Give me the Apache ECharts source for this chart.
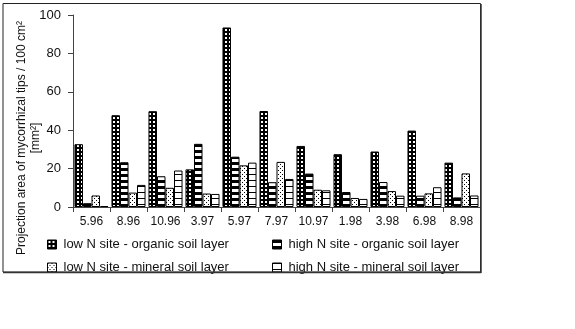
<!DOCTYPE html>
<html><head><meta charset="utf-8">
<script src="https://cdn.jsdelivr.net/npm/echarts@6/dist/echarts.min.js"></script>
<style>html,body{margin:0;padding:0;background:#fff;}#c{width:575px;height:329px;}</style>
</head><body><div id="c"></div>
<script>
var categories = ['5.96','8.96','10.96','3.97','5.97','7.97','10.97','1.98','3.98','6.98','8.98'];
var lowOrganic = [32.7, 47.8, 49.9, 19.6, 93.5, 50, 31.8, 27.5, 28.9, 39.8, 23.1];
var highOrganic = [2, 23.3, 16, 32.9, 26.2, 12.9, 17.4, 7.8, 13, 5.9, 5];
var lowMineral = [6, 7.5, 10, 7, 21.7, 23.5, 9, 4.7, 8.3, 7.1, 17.5];
var highMineral = [0.5, 11.5, 19, 6.8, 23.1, 14.6, 8.7, 4.2, 5.9, 10.3, 6];
var seriesNames = ['low N site - organic soil layer','high N site - organic soil layer','low N site - mineral soil layer','high N site - mineral soil layer'];
var yTicks = [0, 20, 40, 60, 80, 100];

function tile(w, h, draw) {
  var c = document.createElement('canvas'); c.width = w; c.height = h;
  var g = c.getContext('2d'); draw(g);
  return {image: c, repeat: 'repeat'};
}
var patLowOrg = tile(4, 4, function(g){ g.fillStyle='#000'; g.fillRect(0,0,4,4); g.fillStyle='#fff'; g.fillRect(1,1,2,2); });
var patHighOrg = tile(4, 6, function(g){ g.fillStyle='#fff'; g.fillRect(0,0,4,6); g.fillStyle='#000'; g.fillRect(0,0,4,3); });
var patLowMin = tile(4, 4, function(g){ g.fillStyle='#fff'; g.fillRect(0,0,4,4); g.fillStyle='#000'; g.fillRect(0,0,1,1); g.fillRect(2,2,1,1); });
var patHighMin = tile(4, 6, function(g){ g.fillStyle='#fff'; g.fillRect(0,0,4,6); g.fillStyle='#000'; g.fillRect(0,0,4,1); });
var patterns = [patLowOrg, patHighOrg, patLowMin, patHighMin];
var datas = [lowOrganic, highOrganic, lowMineral, highMineral];

var FONT = 'Liberation Sans';
var series = datas.map(function(d, i){
  return {
    name: seriesNames[i], type: 'bar', data: d,
    barGap: '0%', barCategoryGap: '8%',
    itemStyle: {color: patterns[i], borderColor: '#000', borderWidth: 1},
    emphasis: {disabled: true}, animation: false
  };
});

var legendPos = [[42,233],[267,233],[42,256],[267,256]];
var legends = seriesNames.map(function(n, i){
  return {
    data: [n], left: legendPos[i][0], top: legendPos[i][1],
    icon: 'rect', itemWidth: 9, itemHeight: 9, itemGap: 0,
    textStyle: {fontFamily: FONT, fontSize: 13, color: '#111', padding: [0,0,0,2]},
    itemStyle: {borderColor: '#000', borderWidth: 1},
    selectedMode: false
  };
});

var chart = echarts.init(document.getElementById('c'), null, {renderer: 'canvas'});
chart.setOption({
  animation: false,
  backgroundColor: '#fff',
  grid: {left: 73, right: 95, top: 15, bottom: 122, containLabel: false},
  legend: legends,
  xAxis: {
    type: 'category', data: categories,
    axisLine: {lineStyle: {color: '#444', width: 1}},
    axisTick: {show: true, length: 5, lineStyle: {color: '#444'}},
    axisLabel: {interval: 0, hideOverlap: false, fontFamily: FONT, fontSize: 12, color: '#111', margin: 9}
  },
  yAxis: {
    type: 'value', min: yTicks[0], max: yTicks[yTicks.length-1], interval: 20,
    axisLine: {show: true, lineStyle: {color: '#444', width: 1}},
    axisTick: {show: true, length: 5, inside: false, lineStyle: {color: '#444'}},
    splitLine: {show: false},
    axisLabel: {fontFamily: FONT, fontSize: 13, color: '#111', margin: 12}
  },
  series: series,
  graphic: [
    {type: 'rect', shape: {x: 3, y: 3.5, width: 477.5, height: 268.5}, style: {fill: 'none', stroke: '#222', lineWidth: 1}, silent: true, z: 100},
    {type: 'line', shape: {x1: 481, y1: 4, x2: 481, y2: 273}, style: {stroke: '#333', lineWidth: 1.5}, silent: true, z: 100},
    {type: 'line', shape: {x1: 3, y1: 272.5, x2: 481, y2: 272.5}, style: {stroke: '#333', lineWidth: 1.5}, silent: true, z: 100},
    {type: 'text', x: 29, y: 138, rotation: Math.PI/2,
     style: {text: 'Projection area of mycorrhizal tips / 100 cm²\n[mm²]', font: '12px "Liberation Sans"', fill: '#111', textAlign: 'center', textVerticalAlign: 'middle', lineHeight: 14}, silent: true}
  ]
});
</script></body></html>
